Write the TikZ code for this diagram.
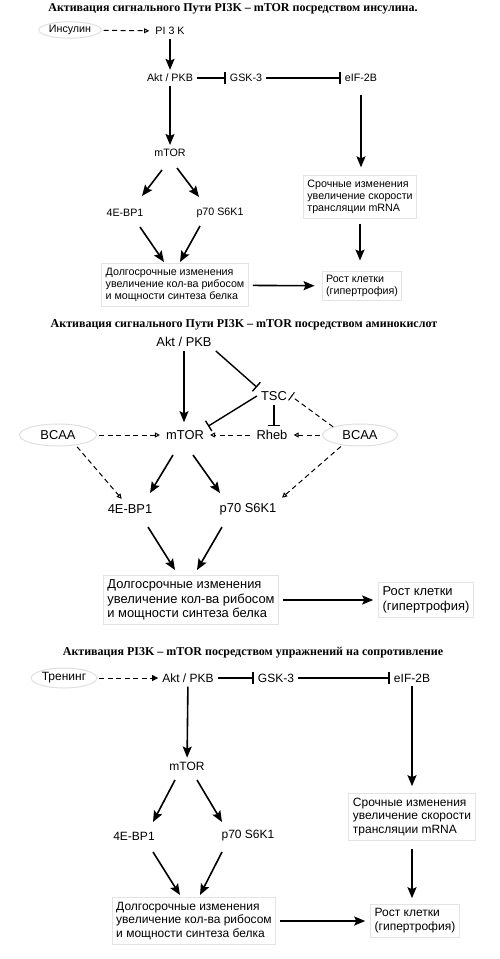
\documentclass[tikz,border=0pt]{standalone}
\usepackage{fontspec}
\setmainfont{Liberation Serif}
\setsansfont{Liberation Sans}
\usetikzlibrary{arrows.meta,shapes.geometric}
\newcommand{\fsa}{\sffamily\fontsize{10.7}{12.3}\selectfont}
\newcommand{\fsb}{\sffamily\fontsize{12.9}{14.5}\selectfont}
\newcommand{\fsc}{\sffamily\fontsize{12}{13.9}\selectfont}
\newcommand{\fst}{\rmfamily\bfseries\fontsize{12}{14}\selectfont}
\tikzset{
    lbl/.style={inner xsep=4pt, inner ysep=4pt},
    box/.style={rectangle, draw=gray!22, line width=1pt, align=left, inner sep=4pt},
    oval/.style={ellipse, draw=gray!25, line width=1pt, inner sep=1pt},
    heading/.style={font=\fst},
    arrow/.style={-{Stealth[length=11pt,width=9pt,inset=2pt]}, line width=1.6pt},
    inhib/.style={-{Bar[width=12pt]}, line width=1.4pt},
    darrow/.style={-{Triangle[open,length=5pt,width=5pt]}, line width=1pt,
        dash pattern=on 5pt off 3.5pt, shorten <=2pt, shorten >=2pt},
    dinhib/.style={-{Bar[width=10pt]}, line width=1pt, dash pattern=on 5pt off 3.5pt}
}

\begin{document}
\begin{tikzpicture}[x=1pt, y=-1pt]
    \useasboundingbox (0,0) rectangle (500,959);

    % insulin
    \node[heading] (title-a) at (233,9) {Активация сигнального Пути PI3K – mTOR посредством инсулина.};
    \node[oval, font=\fsa, minimum width=61pt, minimum height=15pt] (insulin) at (70,30) {Инсулин};
    \node[lbl, font=\fsa] (pik) at (170,31) {PI 3 K};
    \node[lbl, font=\fsa] (akt-a) at (170,78) {Akt / PKB};
    \node[lbl, font=\fsa] (gsk-a) at (246,78) {GSK-3};
    \node[lbl, font=\fsa] (eif-a) at (361,78) {eIF-2B};
    \node[lbl, font=\fsa] (mtor-a) at (170,153) {mTOR};
    \node[lbl, font=\fsa] (bp-a) at (125,213) {4E-BP1};
    \node[lbl, font=\fsa] (sk-a) at (220,213) {p70 S6K1};
    \node[box, font=\fsa] (long-a) at (175,285) {Долгосрочные изменения\\увеличение кол-ва рибосом\\и мощности синтеза белка};
    \node[box, font=\fsa] (short-a) at (360,197) {Срочные изменения\\увеличение скорости\\трансляции mRNA};
    \node[box, font=\fsa] (grow-a) at (362,286) {Рост клетки\\(гипертрофия)};
    \path (insulin) edge [darrow] (pik)
        (pik) edge [arrow] (akt-a)
        (akt-a) edge [inhib] (gsk-a)
        (gsk-a) edge [inhib] (eif-a)
        (akt-a) edge [arrow] (mtor-a)
        (eif-a) edge [arrow, shorten <=9pt, shorten >=8pt] (eif-a |- short-a.north)
        ([shift={(-8,17)}]mtor-a.center) edge [arrow] ([shift={(17,-17)}]bp-a.center)
        ([shift={(7,15)}]mtor-a.center) edge [arrow] ([shift={(-21,-16)}]sk-a.center)
        ([shift={(15,14)}]bp-a.center) edge [arrow] ([shift={(-11,-23)}]long-a.center)
        ([shift={(-20,13)}]sk-a.center) edge [arrow] ([shift={(5,-23)}]long-a.center)
        (long-a) edge [arrow, shorten <=4pt, shorten >=7pt] (grow-a)
        (short-a) edge [arrow, shorten <=5pt, shorten >=10pt] (short-a |- grow-a.north);

    % amino acids
    \node[heading] (title-b) at (244,325) {Активация сигнального Пути PI3K – mTOR посредством аминокислот};
    \node[lbl, font=\fsb] (akt-b) at (184,342) {Akt / PKB};
    \node[lbl, font=\fsb] (tsc) at (274,396) {TSC};
    \node[lbl, font=\fsb] (mtor-b) at (185,435) {mTOR};
    \node[lbl, font=\fsb] (rheb) at (272,435) {Rheb};
    \node[oval, font=\fsb, minimum width=77pt, minimum height=22pt] (bcaa-l) at (58,435) {BCAA};
    \node[oval, font=\fsb, minimum width=75pt, minimum height=22pt] (bcaa-r) at (360,435) {BCAA};
    \node[lbl, font=\fsb] (bp-b) at (130,509) {4E-BP1};
    \node[lbl, font=\fsb] (sk-b) at (248,509) {p70 S6K1};
    \node[box, font=\fsb] (long-b) at (191,600) {Долгосрочные изменения\\увеличение кол-ва рибосом\\и мощности синтеза белка};
    \node[box, font=\fsb] (grow-b) at (426,600) {Рост клетки\\(гипертрофия)};
    \path (akt-b) edge [arrow, shorten >=4pt] (akt-b |- mtor-b.north)
        (akt-b.south east) edge [inhib] (tsc.north west)
        (tsc.west) edge [inhib] (mtor-b.north east)
        (tsc) edge [inhib] (tsc |- rheb.north)
        (bcaa-r.north west) edge [dinhib] (tsc.east)
        (bcaa-l) edge [darrow] (mtor-b)
        (rheb) edge [darrow] (mtor-b)
        (bcaa-r) edge [darrow] (rheb)
        (bcaa-l.-30) edge [darrow] (bp-b.129)
        (bcaa-r.210) edge [darrow] (sk-b.north east)
        ([shift={(-12,20)}]mtor-b.center) edge [arrow] ([shift={(20,-16)}]bp-b.center)
        ([shift={(8,20)}]mtor-b.center) edge [arrow] ([shift={(-28,-16)}]sk-b.center)
        ([shift={(18,18)}]bp-b.center) edge [arrow] ([shift={(-16,-30)}]long-b.center)
        ([shift={(-26,18)}]sk-b.center) edge [arrow] ([shift={(6,-30)}]long-b.center)
        (long-b) edge [arrow, shorten <=4pt, shorten >=5pt] (grow-b);

    % training
    \node[heading] (title-c) at (253,653) {Активация PI3K – mTOR посредством упражнений на сопротивление};
    \node[oval, font=\fsc, minimum width=62pt, minimum height=20pt] (training) at (64,678) {Тренинг};
    \node[lbl, font=\fsc] (akt-c) at (188,678) {Akt / PKB};
    \node[lbl, font=\fsc] (gsk-c) at (276,678) {GSK-3};
    \node[lbl, font=\fsc] (eif-c) at (412,678) {eIF-2B};
    \node[lbl, font=\fsc] (mtor-c) at (187,766) {mTOR};
    \node[lbl, font=\fsc] (bp-c) at (134,836) {4E-BP1};
    \node[lbl, font=\fsc] (sk-c) at (248,836) {p70 S6K1};
    \node[box, font=\fsc] (long-c) at (194,921) {Долгосрочные изменения\\увеличение кол-ва рибосом\\и мощности синтеза белка};
    \node[box, font=\fsc] (short-c) at (412,817) {Срочные изменения\\увеличение скорости\\трансляции mRNA};
    \node[box, font=\fsc] (grow-c) at (415,921) {Рост клетки\\(гипертрофия)};
    \path (training) edge [darrow, -{Triangle[length=6pt,width=6pt]}, shorten >=0pt] (akt-c)
        (akt-c) edge [inhib] (gsk-c)
        (gsk-c) edge [inhib] (eif-c)
        (akt-c) edge [arrow] (mtor-c)
        (eif-c) edge [arrow, shorten >=7pt] (eif-c |- short-c.north)
        ([shift={(-12,14)}]mtor-c.center) edge [arrow] ([shift={(19,-14)}]bp-c.center)
        ([shift={(10,14)}]mtor-c.center) edge [arrow] ([shift={(-26,-14)}]sk-c.center)
        ([shift={(19,16)}]bp-c.center) edge [arrow] ([shift={(-14,-26)}]long-c.center)
        ([shift={(-26,16)}]sk-c.center) edge [arrow] ([shift={(6,-26)}]long-c.center)
        (long-c) edge [arrow, shorten <=4pt, shorten >=5pt] (grow-c)
        (short-c) edge [arrow, shorten <=8pt, shorten >=6pt] (short-c |- grow-c.north);
\end{tikzpicture}
\end{document}
